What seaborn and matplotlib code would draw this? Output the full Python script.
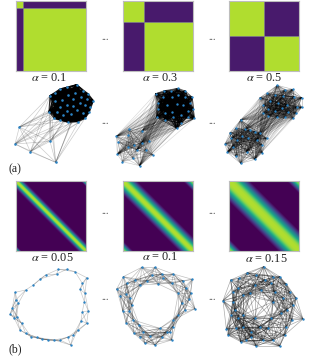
"""
Graphons and sampled graphs for two families, (a) block and (b) ring
"""
import itertools
import numpy as np
import pandas as pd
import matplotlib.pyplot as plt
import seaborn as sns
from matplotlib.collections import LineCollection

block_labels = ["$\\alpha$ = 0.1", "$\\alpha$ = 0.3", "$\\alpha$ = 0.5"]
ring_labels = ["$\\alpha$ = 0.05", "$\\alpha$ = 0.1", "$\\alpha$ = 0.15"]
block_fractions = [0.1, 0.3, 0.5]

# brightness by distance from the diagonal, in cells
band_profiles = [
    [.88, .86, .78, .64, .48, .32, .18, .08, .02],
    [.88, .88, .86, .82, .76, .69, .61, .52, .43, .34, .25, .17, .10, .05, .01],
    [.88, .88, .88, .87, .86, .84, .81, .77, .72, .67, .61, .55, .49, .43, .36, .29, .23, .17, .12, .07, .03],
]
corner_profiles = [
    [.78, .62, .42, .22, .06],
    [.84, .80, .73, .63, .52, .40, .28, .17, .08, .02],
    [.84, .82, .78, .72, .64, .54, .44, .34, .24, .15, .08, .02],
]

a1_big = [(135,47),(150,40),(165,27),(185,22),(215,14),(235,33),(250,42),(265,62),(255,80),(253,97),(240,115),(218,125),
          (190,127),(165,120),(148,115),(132,95),(150,62),(170,60),(190,45),(210,40),(228,50),(245,58),(165,80),(185,75),
          (203,58),(225,68),(240,75),(175,105),(198,103),(215,90),(235,100),(155,95),(185,92),(205,78)]
a1_small = [(43,141),(30,192),(76,215),(135,184),(152,247)]
a2_big = [(137,41),(163,32),(183,33),(204,25),(226,33),(247,52),(250,87),(253,115),(233,110),(212,130),(200,145),(165,120),
          (140,112),(145,88),(145,68),(170,75),(160,52),(185,50),(205,45),(225,50),(240,68),(218,75),(200,72),(185,95),
          (165,98),(190,110),(212,105),(235,92)]
a2_small = [(19,169),(25,187),(58,147),(97,152),(55,165),(118,183),(95,188),(72,195),(55,200),(22,223),(37,245),(68,235),
            (80,210),(108,210),(128,225),(89,257)]
a3_top = [(120,53),(142,40),(172,16),(195,30),(218,28),(245,53),(222,50),(190,48),(165,45),(130,75),(150,62),(175,70),
          (200,75),(230,82),(245,82),(228,100),(145,87),(165,92),(185,85),(205,95),(195,112),(220,115),(170,112),(145,108),(130,100)]
a3_bottom = [(62,120),(47,145),(30,158),(33,175),(15,192),(38,200),(22,217),(47,228),(62,250),(105,238),(127,218),(140,175),
             (120,160),(105,155),(90,150),(75,148),(65,168),(85,175),(110,180),(50,180),(125,195),(80,215)]
b1_nodes = [(160,28),(185,28),(210,35),(245,53),(232,70),(225,88),(240,100),(238,125),(250,153),(232,155),(245,190),(228,182),
            (218,210),(205,225),(197,255),(188,232),(165,240),(148,240),(130,240),(112,238),(95,232),(78,230),(62,220),(45,210),
            (50,190),(35,172),(28,175),(15,163),(22,145),(40,130),(32,120),(30,97),(62,90),(85,75),(105,57),(122,45),(155,42)]
b2_nodes = [(95,22),(135,22),(155,42),(190,42),(218,62),(247,58),(228,85),(242,100),(205,100),(238,118),(255,146),(225,150),
            (205,165),(190,180),(188,200),(180,215),(185,240),(155,230),(135,255),(120,228),(105,250),(90,230),(72,220),(88,195),
            (70,180),(48,188),(58,152),(38,152),(65,135),(48,103),(30,108),(20,87),(50,70),(40,50),(75,60),(90,75),(110,62),
            (145,72),(185,70),(160,55),(125,45),(215,130),(100,215),(150,205),(60,115),(170,215)]
b3_nodes = [(137,20),(185,50),(205,72),(235,115),(225,135),(255,177),(222,180),(207,150),(205,200),(185,258),(165,240),(135,240),
            (115,258),(100,215),(85,240),(68,245),(30,225),(55,205),(25,207),(15,122),(38,60),(62,55),(88,38),(110,75),(140,60),
            (160,70),(165,125),(160,175),(125,200),(110,175),(75,165),(60,175),(45,125),(75,105),(95,100),(130,90),(170,95),
            (195,115),(190,160),(150,205),(75,200),(40,165),(115,45),(165,50),(60,85),(45,95),(215,95),(200,225),(100,230),(50,150)]

W, H = 313, 361
MAT_X = [16, 123, 229]
MAT_SIZE = 70


def add_axes_px(fig, x, y, w, h):
    return fig.add_axes([x / W, 1 - (y + h) / H, w / W, h / H])


def block_matrix(frac, n=70):
    k = int(round(frac * n))
    m = np.full((n, n), 0.07)
    m[:k, :k] = 0.88
    m[k:, k:] = 0.88
    return m


def ring_matrix(band, corner, n=70):
    m = np.zeros((n, n))
    for i in range(n):
        for j in range(n):
            d = abs(i - j)
            v = band[d] if d < len(band) else 0.0
            c = n - 1 - d
            if c < len(corner):
                v = max(v, corner[c])
            m[i, j] = v
    return m


def draw_matrix(fig, m, x, y, split=None):
    ax = add_axes_px(fig, x, y, MAT_SIZE, MAT_SIZE)
    sns.heatmap(pd.DataFrame(m), ax=ax, cmap="viridis", vmin=0, vmax=1, cbar=False,
                xticklabels=False, yticklabels=False)
    if split is not None:
        ax.axhline(split, color="#7d7d7d", lw=0.7)
        ax.axvline(split, color="#7d7d7d", lw=0.7)
    for s in ax.spines.values():
        s.set_visible(True)
        s.set_color("#bdbdbd")
        s.set_linewidth(0.8)


def px(nodes, ox, oy):
    # crops were read at 3x
    return [(ox + a / 3, oy + b / 3) for a, b in nodes]


def draw_edges(ax, segs, alpha, lw=0.5):
    ax.add_collection(LineCollection(segs, colors="k", alpha=alpha, linewidths=lw))


def draw_nodes(ax, nodes, size=3.5):
    df = pd.DataFrame(nodes, columns=["x", "y"])
    sns.scatterplot(data=df, x="x", y="y", ax=ax, color="#2b83c4", s=size, linewidth=0, zorder=3, legend=False)


def within(nodes):
    return list(itertools.combinations(nodes, 2))


def across(g1, g2, step):
    segs = []
    for i, p in enumerate(g1):
        for j, q in enumerate(g2):
            if (i * 3 + j * 5) % step == 0:
                segs.append((p, q))
    return segs


def ring_edges(nodes, reach):
    segs = []
    for p, q in itertools.combinations(nodes, 2):
        if np.hypot(p[0] - q[0], p[1] - q[1]) < reach:
            segs.append((p, q))
    return segs


if __name__ == "__main__":
    plt.rcParams["mathtext.fontset"] = "stix"
    plt.rcParams["font.family"] = ["Liberation Serif", "DejaVu Serif"]
    fig = plt.figure(figsize=(W / 100, H / 100), dpi=100, facecolor="white")

    for x, frac in zip(MAT_X, block_fractions):
        draw_matrix(fig, block_matrix(frac), x, 1, split=frac * 70)
    for x, band, corner in zip(MAT_X, band_profiles, corner_profiles):
        draw_matrix(fig, ring_matrix(band, corner), x, 181)

    ax = fig.add_axes([0, 0, 1, 1], facecolor="none")
    ax.set_xlim(0, W)
    ax.set_ylim(H, 0)
    ax.axis("off")

    big, small = px(a1_big, 5, 80), px(a1_small, 5, 80)
    draw_edges(ax, within(big), 0.8, 0.8)
    draw_edges(ax, across(big, small, 5) + within(small), 0.2)
    draw_nodes(ax, big + small)

    big, small = px(a2_big, 110, 80), px(a2_small, 110, 80)
    draw_edges(ax, within(big), 0.6, 0.6)
    draw_edges(ax, within(small), 0.2, 0.45)
    draw_edges(ax, across(big, small, 3), 0.14)
    draw_nodes(ax, big + small, 3)

    top, bottom = px(a3_top, 220, 80), px(a3_bottom, 220, 80)
    draw_edges(ax, within(top) + within(bottom), 0.28, 0.45)
    draw_edges(ax, across(top, bottom, 3), 0.14)
    draw_nodes(ax, top + bottom, 3)

    b1 = px(b1_nodes, 5, 260)
    draw_edges(ax, ring_edges(b1, 18), 0.22)
    draw_nodes(ax, b1, 3)
    b2 = px(b2_nodes, 110, 260)
    draw_edges(ax, ring_edges(b2, 28), 0.25)
    draw_nodes(ax, b2, 3)
    b3 = px(b3_nodes, 218, 260)
    draw_edges(ax, ring_edges(b3, 34), 0.33)
    draw_nodes(ax, b3, 3)

    for cx, cy, label in zip([49, 160, 264], [78, 78, 78], block_labels):
        ax.text(cx, cy, label, ha="center", va="center", fontsize=8.8, color="#222222")
    for cx, cy, label in zip([52, 160, 266], [258, 257, 259], ring_labels):
        ax.text(cx, cy, label, ha="center", va="center", fontsize=8.8, color="#222222")
    for y in [39, 124, 214, 300]:
        for x in [105.5, 212.5]:
            ax.text(x, y - 2, "...", ha="center", va="center", fontsize=7, color="#444444")
    ax.text(15, 169, "(a)", ha="center", va="center", fontsize=8.5, color="#222222")
    ax.text(15, 349, "(b)", ha="center", va="center", fontsize=8.5, color="#222222")

    fig.savefig("out.png", dpi=100)
